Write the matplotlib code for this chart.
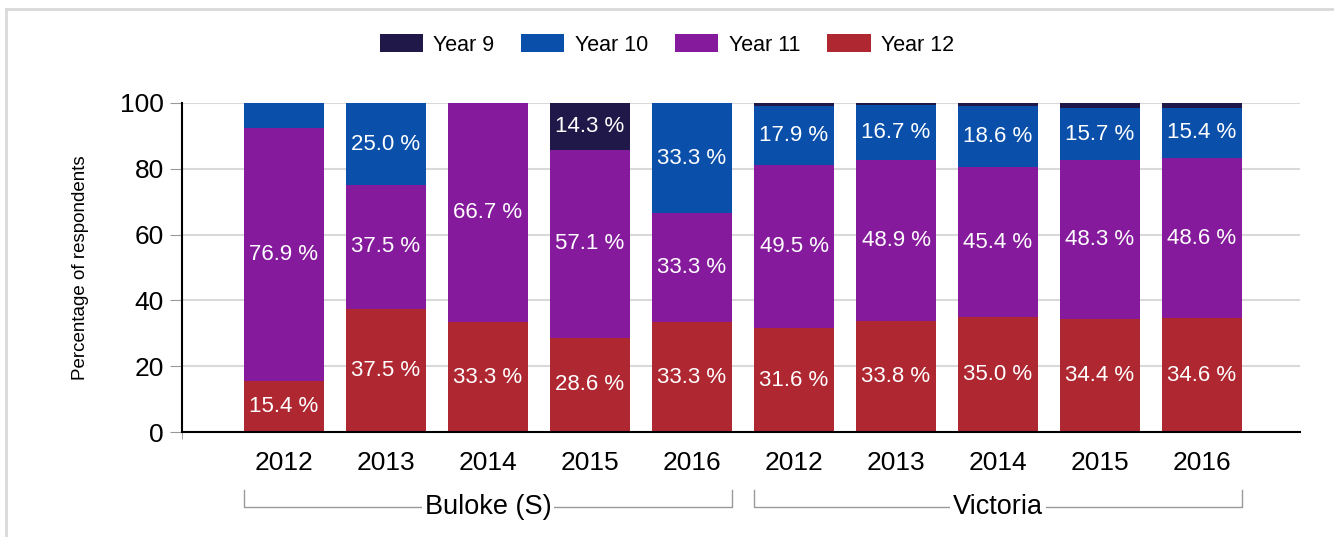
import matplotlib.pyplot as plt
import matplotlib.transforms as mtransforms
from matplotlib.lines import Line2D
import numpy as np

plt.rcParams['font.family'] = ['Liberation Sans', 'DejaVu Sans']

# Data
years = ["2012", "2013", "2014", "2015", "2016", "2012", "2013", "2014", "2015", "2016"]
groups = ["Buloke (S)", "Victoria"]
year12 = [15.4, 37.5, 33.3, 28.6, 33.3, 31.6, 33.8, 35.0, 34.4, 34.6]
year11 = [76.9, 37.5, 66.7, 57.1, 33.3, 49.5, 48.9, 45.4, 48.3, 48.6]
year10 = [7.7, 25.0, 0.0, 0.0, 33.3, 17.9, 16.7, 18.6, 15.7, 15.4]
year9 = [0.0, 0.0, 0.0, 14.3, 0.0, 1.0, 0.6, 1.0, 1.6, 1.4]

series = [("Year 12", year12, "#af2731"),
          ("Year 11", year11, "#861a9c"),
          ("Year 10", year10, "#0a50aa"),
          ("Year 9", year9, "#21184a")]

fig = plt.figure(figsize=(13.34, 5.37), dpi=100)
ax = fig.add_axes([0.1364, 0.1955, 0.8381, 0.6127])

x = np.arange(len(years))
bottom = np.zeros(len(years))
handles = {}
for name, vals, col in series:
    vals = np.array(vals)
    b = ax.bar(x, vals, 0.78, bottom=bottom, color=col, zorder=3, label=name)
    handles[name] = b
    for xi, v, bo in zip(x, vals, bottom):
        if v >= 10:
            ax.text(xi, bo + v / 2, f"{v:.1f} %", ha="center", va="center",
                    color="white", fontsize=16, zorder=4)
    bottom += vals

ax.set_xlim(-1, 9.96)
ax.set_ylim(0, 100)
ax.set_yticks([0, 20, 40, 60, 80, 100])
ax.yaxis.grid(True, color="#d9d9d9", lw=1.5, zorder=0)
ax.set_axisbelow(True)
for s in ["top", "right"]:
    ax.spines[s].set_visible(False)
ax.spines["left"].set_linewidth(1.5)
ax.spines["bottom"].set_linewidth(1.5)
ax.spines["left"].set_zorder(5)
ax.spines["bottom"].set_zorder(5)

ax.tick_params(axis="y", length=9, color="#999999", labelsize=19, pad=4)
ax.set_xticks(x)
ax.set_xticklabels(years)
ax.tick_params(axis="x", which="major", length=0, labelsize=19, pad=14)
ax.set_xticks([-1, 1, 3, 5, 7, 9], minor=True)
ax.tick_params(axis="x", which="minor", length=5, color="#999999")

ax.set_ylabel("Percentage of respondents", fontsize=13.5, labelpad=22)

# group brackets
trans = mtransforms.blended_transform_factory(ax.transData, ax.transAxes)
for gi, gname in enumerate(groups):
    x0 = gi * 5 - 0.39
    x1 = gi * 5 + 4 + 0.39
    ax.plot([x0, x0, x1, x1], [-0.176, -0.228, -0.228, -0.176], transform=trans,
            color="#999999", lw=1, clip_on=False)
    ax.text((x0 + x1) / 2, -0.228, gname, transform=trans, ha="center", va="center",
            fontsize=19.5, bbox=dict(facecolor="white", edgecolor="none", pad=2))

# legend
order = ["Year 9", "Year 10", "Year 11", "Year 12"]
fig.legend([handles[n] for n in order], order, loc="center",
           bbox_to_anchor=(0.5, 1 - 45 / 537), ncol=4, frameon=False,
           fontsize=15.5, handlelength=2.0, handleheight=0.85,
           handletextpad=0.5, columnspacing=1.25)

# outer frame lines
fig.add_artist(Line2D([0.0045, 0.0045], [0, 0.983], color="#d9d9d9", lw=2))
fig.add_artist(Line2D([0.0045, 1], [0.983, 0.983], color="#d9d9d9", lw=2))

fig.savefig("out.png", dpi=100)
